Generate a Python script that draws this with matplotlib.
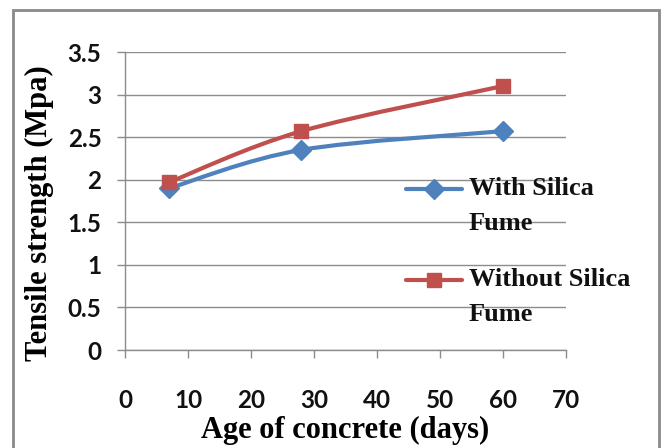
import numpy as np
import matplotlib
matplotlib.use("Agg")
import matplotlib.pyplot as plt
from matplotlib.path import Path
from matplotlib.patches import PathPatch, Rectangle
from matplotlib.lines import Line2D

# Curing ages (days) and split tensile strength (MPa)
age_days = [7, 28, 60]
with_silica = [1.90, 2.35, 2.57]
without_silica = [1.97, 2.57, 3.10]
series_labels = ["With Silica\nFume", "Without Silica\nFume"]
x_ticks = [0, 10, 20, 30, 40, 50, 60, 70]
y_ticks = [0, 0.5, 1, 1.5, 2, 2.5, 3, 3.5]
y_tick_labels = ["0", "0.5", "1", "1.5", "2", "2.5", "3", "3.5"]

BLUE = "#4F81BD"
RED = "#C0504D"
GRID = "#8C8C8C"
SERIF = "Liberation Serif"
SANS = "Lato"

W, H = 668, 448
fig = plt.figure(figsize=(W / 100, H / 100), dpi=100)
ax = fig.add_axes([125 / W, 1 - 350 / H, (566 - 125) / W, (350 - 52) / H])


def smooth_path(xs, ys):
    """Cubic Bezier path through the points (Catmull-Rom style tangents)."""
    pts = np.column_stack([xs, ys]).astype(float)
    n = len(pts)
    verts = [pts[0]]
    codes = [Path.MOVETO]
    for i in range(n - 1):
        p0 = pts[i - 1] if i > 0 else pts[i]
        p1 = pts[i]
        p2 = pts[i + 1]
        p3 = pts[i + 2] if i + 2 < n else pts[i + 1]
        c1 = p1 + (p2 - p0) / 6.0
        c2 = p2 - (p3 - p1) / 6.0
        verts += [c1, c2, p2]
        codes += [Path.CURVE4] * 3
    return Path(verts, codes)


styles = [(with_silica, BLUE, "D", 10.5), (without_silica, RED, "s", 9.5)]
for ys, color, marker, ms in styles:
    ax.add_patch(PathPatch(smooth_path(age_days, ys), facecolor="none",
                           edgecolor=color, lw=3, capstyle="round",
                           zorder=3))
    ax.plot(age_days, ys, linestyle="none", marker=marker, ms=ms,
            color=color, zorder=4)

ax.set_xlim(0, 70)
ax.set_ylim(0, 3.5)
ax.set_xticks(x_ticks)
ax.set_yticks(y_ticks)
ax.set_yticklabels(y_tick_labels)
ax.yaxis.grid(True, color=GRID, lw=1)
ax.set_axisbelow(True)
for side in ("top", "right"):
    ax.spines[side].set_visible(False)
for side in ("left", "bottom"):
    ax.spines[side].set_color(GRID)
    ax.spines[side].set_linewidth(1)
ax.tick_params(axis="both", direction="out", length=6, width=1, color=GRID,
               labelsize=17.5, labelcolor="#111111")
ax.tick_params(axis="x", pad=22)
ax.tick_params(axis="y", pad=11)
for lab in ax.get_xticklabels() + ax.get_yticklabels():
    lab.set_fontfamily(SANS)
    lab.set_fontweight("bold")

ax.set_xlabel("Age of concrete (days)", fontfamily=SERIF, fontweight="bold",
              fontsize=22, labelpad=3)
ax.set_ylabel("Tensile strength (Mpa)", fontfamily=SERIF, fontweight="bold",
              fontsize=22)
ax.yaxis.set_label_coords(-0.16, 0.46)

# Legend on the right side of the plot area
tf = fig.transFigure
for i, (label, (_, color, marker, ms)) in enumerate(zip(series_labels, styles)):
    yc = 1 - (189 + i * 91) / H
    x0, x1 = 406 / W, 462 / W
    fig.add_artist(Line2D([x0, (x0 + x1) / 2, x1], [yc, yc, yc], transform=tf,
                          color=color, lw=3, solid_capstyle="round",
                          marker=marker, ms=ms, markevery=[1]))
    fig.text(469 / W, 1 - (177 + i * 91) / H, label, transform=tf,
             fontfamily=SERIF, fontweight="bold", fontsize=19,
             va="top", ha="left", linespacing=1.65, color="#111111")

# Chart frame
fig.add_artist(Rectangle((13 / W, -0.05), (659 - 13) / W, 1 - 10 / H + 0.05,
                         transform=tf, fill=False, edgecolor="#8A8A8A",
                         lw=2, clip_on=False))

fig.savefig("out.png", dpi=100)
